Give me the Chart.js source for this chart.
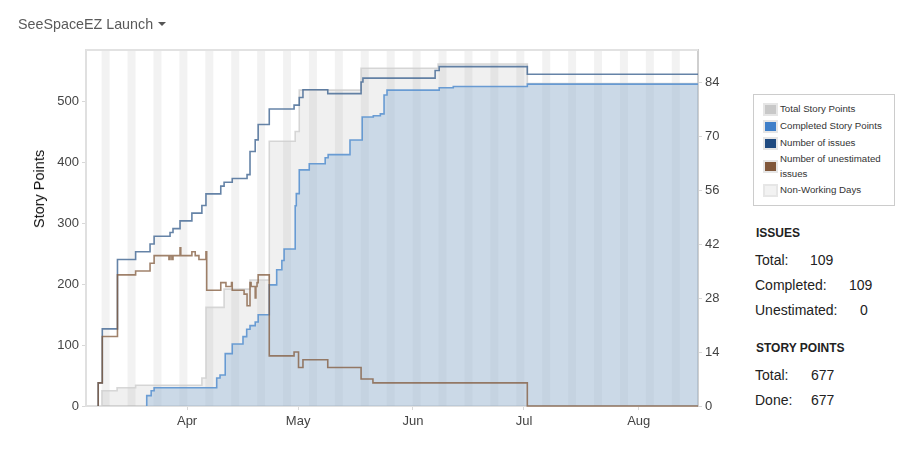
<!DOCTYPE html>
<html>
<head>
<meta charset="utf-8">
<title>SeeSpaceEZ Launch</title>
<script src="https://cdn.jsdelivr.net/npm/chart.js@4/dist/chart.umd.js"></script>
<style>
  html, body { margin: 0; padding: 0; background: #fff; }
  body { width: 920px; height: 450px; position: relative; overflow: hidden; font-family: "Liberation Sans", Arial, sans-serif; }
  #burnup { position: absolute; left: 0; top: 0; }
  .abs { position: absolute; white-space: nowrap; }
  #title { left: 18px; top: 16px; font-size: 14.3px; color: #5a5a5a; }
  #caret { left: 158px; top: 22px; width: 0; height: 0; border-left: 4.5px solid transparent; border-right: 4.5px solid transparent; border-top: 4.5px solid #555; }
  #ytitle { left: 39px; top: 189px; font-size: 14.5px; color: #111; transform: translate(-50%, -50%) rotate(-90deg); }
  #legend { left: 753px; top: 94px; width: 140px; height: 110px; border: 1px solid #ccc; }
  .sw { position: absolute; left: 763px; width: 11px; height: 9px; border: 2px solid #e6e6e6; }
  .lt { position: absolute; left: 780px; font-size: 9.7px; line-height: 15px; color: #333; white-space: nowrap; }
  .head { font-size: 12px; font-weight: bold; color: #222; }
  .stat { font-size: 14px; color: #222; }
</style>
</head>
<body>
<canvas id="burnup" width="740" height="450"></canvas>
<div class="abs" id="title">SeeSpaceEZ Launch</div>
<div class="abs" id="caret"></div>
<div class="abs" id="ytitle">Story Points</div>

<div class="abs" id="legend"></div>
<div class="sw" style="top:103px;background:#c8c8c8"></div>
<div class="lt" style="top:101px">Total Story Points</div>
<div class="sw" style="top:120px;background:#3f7fc9"></div>
<div class="lt" style="top:118px">Completed Story Points</div>
<div class="sw" style="top:137px;background:#1f4a80"></div>
<div class="lt" style="top:135px">Number of issues</div>
<div class="sw" style="top:160px;background:#80573a"></div>
<div class="lt" style="top:151px">Number of unestimated<br>issues</div>
<div class="sw" style="top:184px;background:#f2f2f2"></div>
<div class="lt" style="top:182px">Non-Working Days</div>

<div class="abs head" style="left:756px;top:226px">ISSUES</div>
<div class="abs stat" style="left:755px;top:252px">Total:</div>
<div class="abs stat" style="left:810px;top:252px">109</div>
<div class="abs stat" style="left:755px;top:277px">Completed:</div>
<div class="abs stat" style="left:849px;top:277px">109</div>
<div class="abs stat" style="left:755px;top:302px">Unestimated:</div>
<div class="abs stat" style="left:860px;top:302px">0</div>
<div class="abs head" style="left:756px;top:341px">STORY POINTS</div>
<div class="abs stat" style="left:755px;top:367px">Total:</div>
<div class="abs stat" style="left:811px;top:367px">677</div>
<div class="abs stat" style="left:755px;top:392px">Done:</div>
<div class="abs stat" style="left:811px;top:392px">677</div>

<script>
// days are counted from 1 April
var monthDays = [0, 30, 61, 91, 122];
var monthLabels = ['Apr', 'May', 'Jun', 'Jul', 'Aug'];
var pointTicks = [0, 100, 200, 300, 400, 500];
var issueTicks = [0, 14, 28, 42, 56, 70, 84];
var weekendDays = [-23, -16, -9, -2, 5, 12, 19, 26, 33, 40, 47, 54, 61, 68, 75, 82, 89, 96, 103, 110, 117, 124, 131];

var totalDays = [-23, -23, -18.9, -13.9, 4, 5.1, 10, 17, 22.2, 29.2, 30.3, 47, 67.8, 91.9, 138];
var totalPoints = [0, 25, 30, 34, 46, 162, 192, 207, 435, 451, 519, 555, 562, 530, 530];

var doneDays = [-10.9, -10.9, -9.7, -8.9, 8, 8.9, 10.3, 12.2, 15.1, 16.1, 17, 18.4, 19.2, 22.2, 24.2, 25.6, 26.2, 29.2, 29.5, 30.3, 33, 37.3, 38.1, 44, 47.3, 50.3, 52.2, 53.2, 54, 68.1, 71.9, 91.9, 138];
var donePoints = [0, 17, 25, 30, 46, 51, 86, 102, 114, 126, 132, 138, 150, 199, 224, 239, 258, 329, 349, 388, 398, 408, 413, 437, 475, 477, 480, 511, 519, 523, 525, 529, 529];

var issueDays = [-24, -24, -22.9, -18.8, -13.9, -10, -8.9, -4.6, -3.8, -1.9, 1.3, 4, 5.1, 9.1, 10, 12.2, 16.2, 17, 18.4, 19.2, 22.2, 28.9, 30.3, 31.3, 38, 47, 47.5, 67, 68.1, 91.9, 138];
var issueCounts = [0, 6, 20, 38, 40, 42, 44, 45, 46, 48, 50, 52, 55, 57, 58, 59, 60, 66, 69, 73, 77, 78, 80, 82, 81, 84, 85, 87, 88, 86, 86];

var unestDays = [-24, -24, -22.9, -18.8, -13.9, -10, -8.9, -4.9, -4.6, -4.1, -3.8, -1.9, -1.7, 1.3, 2.2, 3.2, 5.1, 5.3, 9.1, 10.5, 12, 12.2, 15.4, 16.2, 17, 17.3, 18.4, 18.6, 18.9, 19.2, 22.2, 28.9, 30.1, 31.3, 38, 47, 50.2, 91.9, 138];
var unestCounts = [0, 6, 18, 34, 35, 37, 39, 38, 39, 38, 39, 41, 39, 40, 39, 38, 40, 30, 32, 31, 32, 30, 29, 26, 32, 31, 28, 31, 32, 34, 13, 14, 10, 12, 10, 7, 6, 0, 0];

function pairs(xs, ys) {
  return xs.map(function (x, i) { return { x: x, y: ys[i] }; });
}

function stepLine(label, xs, ys, color, yAxis, fill, fillColor) {
  return {
    type: 'line',
    label: label,
    data: pairs(xs, ys),
    yAxisID: yAxis,
    stepped: true,
    borderColor: color,
    borderWidth: 1.6,
    pointRadius: 0,
    clip: 3,
    fill: fill,
    backgroundColor: fillColor
  };
}

// top edge of the plot, the axes only draw the other sides
var topEdge = {
  id: 'topEdge',
  afterDraw: function (chart) {
    var a = chart.chartArea, c = chart.ctx;
    c.save();
    c.strokeStyle = '#e2e2e2';
    c.lineWidth = 2;
    c.beginPath();
    c.moveTo(a.left, a.top);
    c.lineTo(a.right, a.top);
    c.stroke();
    c.restore();
  }
};

new Chart(document.getElementById('burnup'), {
  type: 'bar',
  data: {
    datasets: [
      stepLine('Number of unestimated issues', unestDays, unestCounts, 'rgba(128,88,58,0.75)', 'yIssues', false),
      stepLine('Number of issues', issueDays, issueCounts, 'rgba(62,100,145,0.8)', 'yIssues', false),
      stepLine('Completed Story Points', doneDays, donePoints, 'rgba(92,148,208,0.9)', 'y', 'origin', 'rgba(166,194,222,0.5)'),
      stepLine('Total Story Points', totalDays, totalPoints, 'rgba(205,205,205,0.8)', 'y', 'origin', 'rgba(0,0,0,0.06)'),
      {
        type: 'bar',
        label: 'Non-Working Days',
        data: weekendDays.map(function (d) { return { x: d + 1, y: 585 }; }),
        yAxisID: 'y',
        backgroundColor: 'rgba(0,0,0,0.05)',
        barThickness: 7.4
      }
    ]
  },
  options: {
    responsive: false,
    animation: false,
    layout: { padding: { top: 50 } },
    plugins: { legend: { display: false }, tooltip: { enabled: false } },
    scales: {
      x: {
        type: 'linear',
        offset: false,
        min: -27.3,
        max: 138,
        afterBuildTicks: function (axis) {
          axis.ticks = monthDays.map(function (d) { return { value: d }; });
        },
        afterFit: function (axis) { axis.height = 44; },
        grid: { drawOnChartArea: false, offset: false, tickLength: 4, color: '#d8d8d8' },
        border: { color: '#e0e0e0', width: 2 },
        ticks: {
          autoSkip: false,
          maxRotation: 0,
          padding: 4,
          color: '#444',
          font: { family: 'Liberation Sans', size: 13 },
          callback: function (v) { return monthLabels[monthDays.indexOf(v)]; }
        }
      },
      y: {
        position: 'left',
        min: 0,
        max: 585,
        afterBuildTicks: function (axis) {
          axis.ticks = pointTicks.map(function (v) { return { value: v }; });
        },
        afterFit: function (axis) { axis.width = 86; },
        grid: { drawOnChartArea: false, tickLength: 4, color: '#d8d8d8' },
        border: { color: '#e0e0e0', width: 2 },
        ticks: { color: '#444', font: { family: 'Liberation Sans', size: 13 } }
      },
      yIssues: {
        position: 'right',
        min: 0,
        max: 92.3,
        afterBuildTicks: function (axis) {
          axis.ticks = issueTicks.map(function (v) { return { value: v }; });
        },
        afterFit: function (axis) { axis.width = 42; },
        grid: { drawOnChartArea: false, tickLength: 4, color: '#d8d8d8' },
        border: { color: '#cfcfcf', width: 2 },
        ticks: { color: '#444', font: { family: 'Liberation Sans', size: 13 } }
      }
    }
  },
  plugins: [topEdge]
});
</script>
</body>
</html>
